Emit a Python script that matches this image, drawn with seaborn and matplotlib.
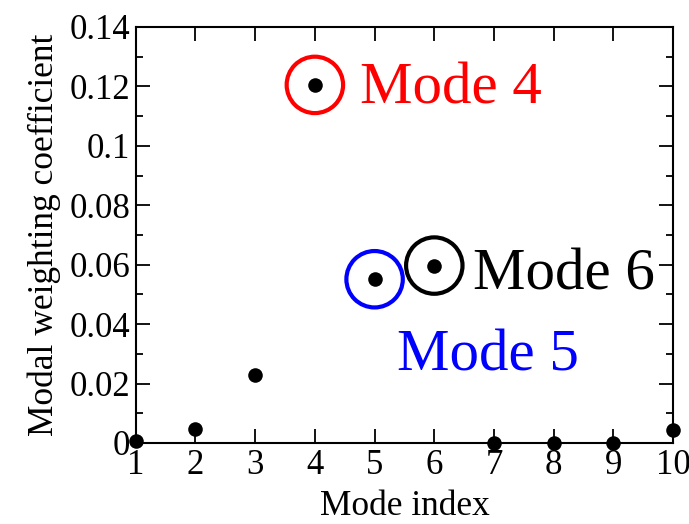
import numpy as np
import pandas as pd
import matplotlib
matplotlib.use("Agg")
import matplotlib.pyplot as plt
import seaborn as sns
from matplotlib.ticker import MultipleLocator, FuncFormatter

# Data
mode_index = [1, 2, 3, 4, 5, 6, 7, 8, 9, 10]
weight_coef = [0.0007, 0.0047, 0.0229, 0.1205, 0.0551, 0.0597, 0.0001, 0.0001, 0.0001, 0.0045]

# Highlighted modes
hl_modes = [4, 5, 6]
hl_labels = ["Mode 4", "Mode 5", "Mode 6"]
hl_colors = ["red", "blue", "black"]

df = pd.DataFrame({"mode": mode_index, "coef": weight_coef})

sns.set_style("ticks")
plt.rcParams["font.family"] = ["Liberation Serif", "DejaVu Serif"]
plt.rcParams["text.color"] = "black"
plt.rcParams["axes.labelcolor"] = "black"
plt.rcParams["xtick.color"] = "black"
plt.rcParams["ytick.color"] = "black"
plt.rcParams["axes.edgecolor"] = "black"

fig = plt.figure(figsize=(6.89, 5.24), dpi=100)
ax = fig.add_axes([0.197, 0.1546, 0.78, 0.794])

sns.scatterplot(data=df, x="mode", y="coef", color="black", s=110,
                edgecolor="black", linewidth=0, zorder=5, clip_on=False, ax=ax)

# Circles around highlighted modes
for m, c in zip(hl_modes, hl_colors):
    row = df[df["mode"] == m]
    ax.scatter(row["mode"], row["coef"], s=1650, facecolors="none",
               edgecolors=c, linewidths=3.0, zorder=6, clip_on=False)

# Text labels
ax.text(4.76, 0.1188, hl_labels[0], color=hl_colors[0], fontsize=42.5, va="center", ha="left")
ax.text(6.64, 0.0565, hl_labels[2], color=hl_colors[2], fontsize=42.5, va="center", ha="left")
ax.text(5.37, 0.0292, hl_labels[1], color=hl_colors[1], fontsize=42.5, va="center", ha="left")

ax.set_xlim(1, 10)
ax.set_ylim(0, 0.14)
ax.set_xticks(mode_index)
ax.yaxis.set_major_locator(MultipleLocator(0.02))
ax.yaxis.set_minor_locator(MultipleLocator(0.01))
ax.yaxis.set_major_formatter(FuncFormatter(lambda v, p: "0" if abs(v) < 1e-9 else f"{v:.2f}".rstrip("0")))

ax.tick_params(axis="both", which="both", direction="in", top=True, right=True,
               labelsize=25, width=1.3, pad=4)
ax.tick_params(which="major", length=10)
ax.tick_params(which="minor", length=5)
for sp in ax.spines.values():
    sp.set_linewidth(1.5)
    sp.set_visible(True)

ax.set_xlabel("Mode index", fontsize=25.5, labelpad=6)
ax.set_ylabel("Modal weighting coefficient", fontsize=25.5, labelpad=6)

fig.savefig("out.png", dpi=100)
